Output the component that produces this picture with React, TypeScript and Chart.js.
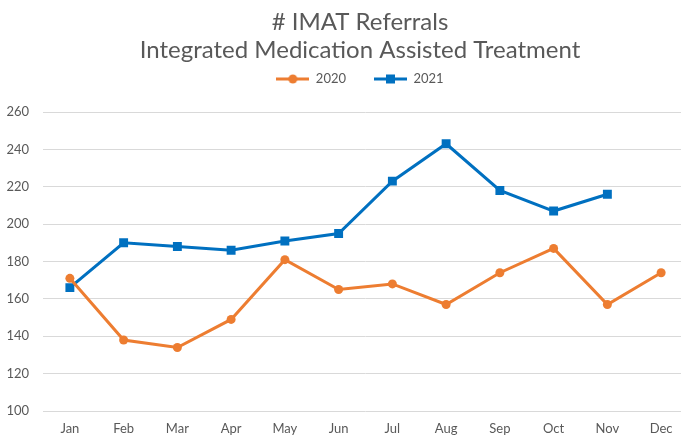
import React, { useEffect, useRef } from 'react';
import { Chart, registerables } from 'chart.js';

Chart.register(...registerables);

const months = ['Jan', 'Feb', 'Mar', 'Apr', 'May', 'Jun', 'Jul', 'Aug', 'Sep', 'Oct', 'Nov', 'Dec'];
const values2020 = [171, 138, 134, 149, 181, 165, 168, 157, 174, 187, 157, 174];
const values2021 = [166, 190, 188, 186, 191, 195, 223, 243, 218, 207, 216, null];
const titleLines = ['# IMAT Referrals', 'Integrated Medication Assisted Treatment'];
const seriesNames = ['2020', '2021'];

const ORANGE = '#ED7D31';
const BLUE = '#0070C0';
const TEXT = '#595959';
const GRID = '#D9D9D9';
const FONT = "Lato, 'Open Sans', sans-serif";

function legendIcon(color: string, kind: 'circle' | 'square'): HTMLCanvasElement {
  const c = document.createElement('canvas');
  c.width = 33;
  c.height = 12;
  const ctx = c.getContext('2d')!;
  ctx.strokeStyle = color;
  ctx.lineWidth = 3;
  ctx.beginPath();
  ctx.moveTo(0, 6);
  ctx.lineTo(33, 6);
  ctx.stroke();
  ctx.fillStyle = color;
  if (kind === 'circle') {
    ctx.beginPath();
    ctx.arc(16.5, 6, 4.5, 0, Math.PI * 2);
    ctx.fill();
  } else {
    ctx.fillRect(12, 1.5, 9, 9);
  }
  return c;
}

export default function App() {
  const ref = useRef<HTMLCanvasElement | null>(null);

  useEffect(() => {
    if (!ref.current) return;
    const icons = [legendIcon(ORANGE, 'circle'), legendIcon(BLUE, 'square')];
    const chart = new Chart(ref.current, {
      type: 'line',
      data: {
        labels: months,
        datasets: [
          {
            label: seriesNames[0],
            data: values2020,
            borderColor: ORANGE,
            backgroundColor: ORANGE,
            borderWidth: 3,
            pointStyle: 'circle',
            pointRadius: 4.5,
            pointHoverRadius: 4.5,
            pointBorderWidth: 0,
            tension: 0,
          },
          {
            label: seriesNames[1],
            data: values2021,
            borderColor: BLUE,
            backgroundColor: BLUE,
            borderWidth: 3,
            pointStyle: 'rect',
            pointRadius: 6.3,
            pointHoverRadius: 6.3,
            pointBorderWidth: 0,
            tension: 0,
            spanGaps: false,
          },
        ],
      },
      options: {
        responsive: false,
        animation: false,
        layout: { padding: { top: 8, left: 7, right: 5, bottom: 0 } },
        plugins: {
          title: {
            display: true,
            text: titleLines,
            color: TEXT,
            font: { family: FONT, size: 24, weight: 'normal', lineHeight: 28 / 24 },
            padding: { top: 0, bottom: -19.5 },
          },
          legend: {
            display: true,
            position: 'top',
            labels: {
              color: TEXT,
              font: { family: FONT, size: 13 },
              usePointStyle: true,
              pointStyleWidth: 33,
              padding: 28,
              generateLabels: (ch: any) =>
                ch.data.datasets.map((ds: any, i: number) => ({
                  text: ds.label,
                  fillStyle: ds.borderColor,
                  strokeStyle: ds.borderColor,
                  lineWidth: 0,
                  pointStyle: icons[i],
                  hidden: false,
                  datasetIndex: i,
                  fontColor: TEXT,
                })),
            },
          },
          tooltip: { enabled: false },
        },
        scales: {
          x: {
            offset: true,
            grid: { display: false, drawTicks: false },
            border: { display: false },
            ticks: { color: TEXT, font: { family: FONT, size: 13 }, padding: 10, maxRotation: 0, autoSkip: false },
            afterFit: (s: any) => {
              s.height = 27;
            },
          },
          xTop: {
            type: 'category',
            position: 'top',
            display: true,
            grid: { display: false, drawTicks: false },
            border: { display: false },
            ticks: { display: false },
            afterFit: (s: any) => {
              s.height = 16.5;
            },
          },
          y: {
            min: 100,
            max: 260,
            grid: { color: GRID, lineWidth: 1, drawTicks: false },
            border: { display: false },
            ticks: { stepSize: 20, color: TEXT, font: { family: FONT, size: 13 }, padding: 14 },
            afterFit: (s: any) => {
              s.width = 36;
            },
          },
          yRight: {
            type: 'linear',
            position: 'right',
            display: true,
            grid: { display: false, drawTicks: false },
            border: { display: false },
            ticks: { display: false },
            afterFit: (s: any) => {
              s.width = 25;
            },
          },
        },
      },
    });
    return () => chart.destroy();
  }, []);

  return (
    <div style={{ position: 'fixed', left: 0, top: 0, width: 681, height: 438, overflow: 'hidden', background: '#fff' }}>
      <canvas ref={ref} width={718} height={438} style={{ display: 'block', width: 718, height: 438 }} />
    </div>
  );
}
